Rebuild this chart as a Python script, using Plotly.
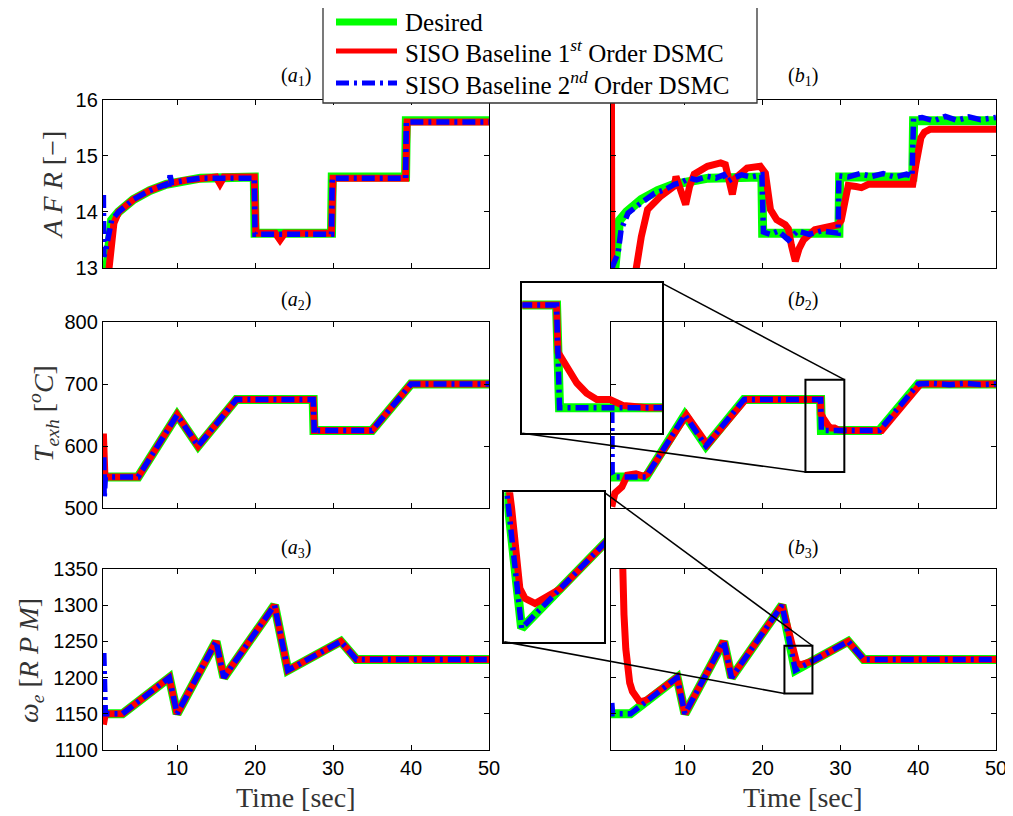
import plotly.graph_objects as go

# ---------------- data ----------------
# Air-fuel ratio
AFR_DES_T = [0.5, 1.0, 1.6, 2.5, 4.4, 6.5, 8.6, 11.0, 13.0, 19.9, 20.0, 29.8, 29.9, 39.3, 39.4, 50.0]
AFR_DES = [12.9, 13.0, 13.85, 14.0, 14.22, 14.38, 14.49, 14.56, 14.6, 14.62, 13.62, 13.62, 14.62, 14.62, 15.62, 15.62]

AFR_A_RED_T = [1.2, 1.9, 2.5, 4.4, 6.5, 8.6, 11.0, 13.0, 15.0, 15.5, 16.0, 19.9, 20.1, 22.6, 23.2, 23.8, 29.8, 30.0, 39.3, 39.5, 50.0]
AFR_A_RED = [12.9, 13.8, 14.0, 14.22, 14.38, 14.49, 14.56, 14.6, 14.62, 14.5, 14.62, 14.62, 13.62, 13.62, 13.5, 13.62, 13.62, 14.6, 14.6, 15.6, 15.6]

AFR_A_BLUE_T = [0.55, 0.6, 0.9, 1.6, 2.5, 4.4, 6.5, 8.6, 8.9, 9.1, 9.3, 11.0, 13.0, 19.9, 20.0, 29.8, 29.9, 39.3, 39.4, 50.0]
AFR_A_BLUE = [14.3, 13.2, 13.35, 13.85, 14.0, 14.22, 14.38, 14.49, 14.4, 14.65, 14.52, 14.56, 14.6, 14.6, 13.6, 13.6, 14.6, 14.6, 15.6, 15.6]

AFR_B_RED_T = [0.55, 0.62, 3.5, 3.75, 4.4, 5.2, 6.9, 8.65, 8.85, 9.3, 10.1, 10.6, 11.2, 12.9, 14.6, 15.2, 15.7, 16.1, 16.5,
               18.0, 19.7, 20.35, 21.0, 21.8, 22.9, 23.3, 23.7, 24.2, 24.7, 25.25, 26.7, 28.4, 29.7, 30.1, 30.5, 31.0,
               32.0, 32.7, 33.6, 39.3, 39.7, 40.35, 40.8, 41.5, 50.0]
AFR_B_RED = [17.0, 12.0, 12.6, 13.0, 13.56, 14.04, 14.28, 14.46, 14.63, 14.45, 14.13, 14.45, 14.67, 14.81, 14.87, 14.84, 14.6, 14.31, 14.6,
             14.78, 14.81, 14.69, 14.04, 13.86, 13.77, 13.7, 13.4, 13.12, 13.35, 13.5, 13.68, 13.74, 13.77, 13.85, 14.2, 14.47,
             14.45, 14.43, 14.49, 14.49, 14.84, 15.32, 15.42, 15.47, 15.47]

AFR_B_BLUE_T = [0.6, 1.4, 1.8, 2.7, 4.4, 6.1, 7.5, 8.65, 9.5, 10.6, 11.5, 12.9, 14.0, 15.0, 15.5, 16.2, 17.3, 18.5, 19.9,
                20.1, 21.0, 22.0, 23.3, 24.5, 26.0, 27.5, 29.7, 29.8, 31.0, 32.5, 34.0, 35.5, 37.0, 38.5, 39.2, 39.4,
                40.5, 42.0, 43.5, 45.0, 46.5, 48.0, 50.0]
AFR_B_BLUE = [13.0, 13.26, 13.68, 13.98, 14.16, 14.33, 14.4, 14.49, 14.52, 14.6, 14.57, 14.63, 14.6, 14.66, 14.54, 14.6, 14.66, 14.62, 14.66,
              13.64, 13.6, 13.66, 13.5, 13.66, 13.6, 13.66, 13.62, 14.64, 14.62, 14.68, 14.63, 14.68, 14.62, 14.67, 14.63, 15.66,
              15.68, 15.62, 15.7, 15.63, 15.69, 15.64, 15.68]

# Exhaust temperature
TEXH_DES_T = [0.5, 5.0, 10.0, 12.7, 17.6, 27.45, 27.55, 35.0, 40.0, 50.0]
TEXH_DES = [550, 550, 650, 600, 675, 675, 625, 625, 700, 700]

TEXH_A_RED_T = [0.55, 0.75, 5.0, 10.0, 12.7, 17.6, 27.45, 27.6, 35.0, 40.0, 50.0]
TEXH_A_RED = [620, 550, 550, 650, 600, 675, 675, 625, 625, 700, 700]

TEXH_A_BLUE_T = [0.6, 0.65, 0.8, 5.0, 10.0, 12.7, 17.6, 27.45, 27.6, 28.0, 35.0, 40.0, 50.0]
TEXH_A_BLUE = [582, 515, 550, 550, 650, 600, 675, 675, 620, 625, 625, 700, 700]

TEXH_B_RED_T = [0.6, 1.0, 1.9, 2.6, 3.7, 4.7, 5.3, 10.2, 12.9, 17.8, 27.45, 27.5, 27.79, 28.13, 28.46, 28.8, 29.24, 29.69,
                30.5, 35.3, 40.3, 50.0]
TEXH_B_RED = [502, 524, 534, 553, 555, 551, 556, 650, 602, 675, 675, 652, 645, 637, 632, 629, 629, 626,
              625, 625, 700, 700]

TEXH_B_BLUE_T = [0.6, 0.65, 0.9, 5.0, 10.0, 12.7, 17.6, 27.45, 27.55, 35.0, 40.0, 42.0, 44.0, 46.0, 48.0, 50.0]
TEXH_B_BLUE = [658, 556, 550, 550, 650, 600, 675, 675, 625, 625, 700, 701, 699, 701, 699, 700]

# Engine speed
W_DES_T = [0.5, 3.0, 9.0, 10.0, 15.0, 16.0, 22.5, 24.2, 31.0, 33.0, 50.0]
W_DES = [1150, 1150, 1200, 1150, 1250, 1200, 1300, 1210, 1250, 1225, 1225]

W_A_RED_T = [0.55, 0.8, 3.0, 9.0, 10.0, 15.0, 16.0, 22.5, 24.2, 31.0, 33.0, 50.0]
W_A_RED = [1135, 1150, 1150, 1200, 1150, 1250, 1200, 1300, 1210, 1250, 1225, 1225]

W_A_BLUE_T = [0.6, 0.62, 0.8, 3.0, 9.0, 10.0, 15.0, 16.0, 22.5, 24.2, 31.0, 33.0, 50.0]
W_A_BLUE = [1234, 1167, 1150, 1150, 1200, 1150, 1250, 1200, 1300, 1210, 1250, 1225, 1225]

W_B_RED_T = [1.85, 1.95, 2.17, 2.4, 2.6, 2.9, 3.25, 3.7, 4.1, 4.6, 5.2, 9.0, 10.0, 15.0, 16.0, 22.5, 23.64, 24.1, 24.39,
             24.95, 25.69, 26.35, 31.0, 33.0, 50.0]
W_B_RED = [1420, 1350, 1287, 1240, 1214, 1193, 1181, 1172, 1168, 1167, 1170, 1200, 1150, 1250, 1200, 1300, 1248.6, 1222.8, 1219.6,
           1218, 1220.2, 1222.6, 1250, 1225, 1225]

W_B_BLUE_T = [0.6, 0.7, 3.0, 9.0, 10.0, 15.0, 16.0, 22.5, 24.2, 31.0, 33.0, 50.0]
W_B_BLUE = [1165, 1150, 1150, 1200, 1150, 1250, 1200, 1300, 1210, 1250, 1225, 1225]

# axis ranges / ticks
T_RANGE = [0.5, 50]
T_TICKS = [10, 20, 30, 40, 50]
AFR_RANGE = [13, 16]
AFR_TICKS = [13, 14, 15, 16]
TEXH_RANGE = [500, 800]
TEXH_TICKS = [500, 600, 700, 800]
W_RANGE = [1100, 1350]
W_TICKS = [1100, 1150, 1200, 1250, 1300, 1350]

# zoom windows
ZOOM1_BOX_T = [25.5, 30.5]
ZOOM1_BOX_Y = [558, 707]
ZOOM1_VIEW_T = [26.3, 31.0]
ZOOM1_VIEW_Y = [612.5, 685.6]
ZOOM2_BOX_T = [22.8, 26.4]
ZOOM2_BOX_Y = [1178, 1244]
ZOOM2_VIEW_T = [23.23, 28.83]
ZOOM2_VIEW_Y = [1205.7, 1253.7]

NAMES = ["Desired", "SISO Baseline 1<sup><i>st</i></sup> Order DSMC", "SISO Baseline 2<sup><i>nd</i></sup> Order DSMC"]

# ---------------- layout geometry ----------------
# The page body adds an 8px margin, so the figure is 8px smaller and positions are shifted.
OFF = 8
W, H = 1013 - OFF, 816 - OFF

def PX(x):
    return (x - OFF) / W
def PY(y):
    return 1 - (y - OFF) / H
def px_x(a, b):
    return [PX(a), PX(b)]
def px_y(top, bottom):
    return [PY(bottom), PY(top)]

XA = px_x(103, 489)
XB = px_x(611, 996)
Y1 = px_y(99.5, 268)
Y2 = px_y(322, 508)
Y3 = px_y(569, 750)
XI1 = px_x(522.3, 662.3)
YI1 = px_y(283.3, 433.3)
XI2 = px_x(504.3, 604.3)
YI2 = px_y(492.3, 641.7)

SERIF = "Liberation Serif"
SANS = "Liberation Sans"
GREEN, RED, BLUE = "#00ff00", "#ff0000", "#0000ff"
BLUE_DASH = "13px,5px,3px,5px"
STYLES = [dict(color=GREEN, width=9), dict(color=RED, width=7), dict(color=BLUE, width=5.5, dash=BLUE_DASH)]

fig = go.Figure()

def add_set(idx, des, red, blue):
    xa = "x" if idx == 1 else f"x{idx}"
    ya = "y" if idx == 1 else f"y{idx}"
    for k, (xs, ys) in enumerate((des, red, blue)):
        fig.add_trace(go.Scatter(x=xs, y=ys, mode="lines", xaxis=xa, yaxis=ya,
                                 line=STYLES[k], name=NAMES[k], showlegend=False))

add_set(1, (AFR_DES_T, AFR_DES), (AFR_A_RED_T, AFR_A_RED), (AFR_A_BLUE_T, AFR_A_BLUE))
add_set(2, (AFR_DES_T, AFR_DES), (AFR_B_RED_T, AFR_B_RED), (AFR_B_BLUE_T, AFR_B_BLUE))
add_set(3, (TEXH_DES_T, TEXH_DES), (TEXH_A_RED_T, TEXH_A_RED), (TEXH_A_BLUE_T, TEXH_A_BLUE))
add_set(4, (TEXH_DES_T, TEXH_DES), (TEXH_B_RED_T, TEXH_B_RED), (TEXH_B_BLUE_T, TEXH_B_BLUE))
add_set(5, (W_DES_T, W_DES), (W_A_RED_T, W_A_RED), (W_A_BLUE_T, W_A_BLUE))
add_set(6, (W_DES_T, W_DES), (W_B_RED_T, W_B_RED), (W_B_BLUE_T, W_B_BLUE))
add_set(7, (TEXH_DES_T, TEXH_DES), (TEXH_B_RED_T, TEXH_B_RED), (TEXH_B_BLUE_T, TEXH_B_BLUE))
add_set(8, (W_DES_T, W_DES), (W_B_RED_T, W_B_RED), (W_B_BLUE_T, W_B_BLUE))

def axis(domain, anchor, rng, ticks=None, labels=False, inset=False):
    d = dict(domain=domain, anchor=anchor, range=rng, showgrid=False, zeroline=False,
             showline=True, linecolor="black", linewidth=2 if inset else 1.3,
             mirror=True if inset else "ticks", fixedrange=True, automargin=False)
    if inset:
        d.update(ticks="", showticklabels=False)
    else:
        d.update(ticks="inside", ticklen=5, tickwidth=1, tickcolor="black",
                 tickvals=ticks, showticklabels=labels,
                 tickfont=dict(family=SANS, size=20, color="black"))
    return d

fig.update_layout(
    width=W, height=H, margin=dict(l=0, r=0, t=0, b=0, autoexpand=False),
    paper_bgcolor="white", plot_bgcolor="rgba(0,0,0,0)",
    showlegend=False,
    xaxis=axis(XA, "y", T_RANGE, T_TICKS),
    yaxis=axis(Y1, "x", AFR_RANGE, AFR_TICKS, labels=True),
    xaxis2=axis(XB, "y2", T_RANGE, T_TICKS),
    yaxis2=axis(Y1, "x2", AFR_RANGE, AFR_TICKS),
    xaxis3=axis(XA, "y3", T_RANGE, T_TICKS),
    yaxis3=axis(Y2, "x3", TEXH_RANGE, TEXH_TICKS, labels=True),
    xaxis4=axis(XB, "y4", T_RANGE, T_TICKS),
    yaxis4=axis(Y2, "x4", TEXH_RANGE, TEXH_TICKS),
    xaxis5=axis(XA, "y5", T_RANGE, T_TICKS, labels=True),
    yaxis5=axis(Y3, "x5", W_RANGE, W_TICKS, labels=True),
    xaxis6=axis(XB, "y6", T_RANGE, T_TICKS, labels=True),
    yaxis6=axis(Y3, "x6", W_RANGE, W_TICKS),
    xaxis7=axis(XI1, "y7", ZOOM1_VIEW_T, inset=True),
    yaxis7=axis(YI1, "x7", ZOOM1_VIEW_Y, inset=True),
    xaxis8=axis(XI2, "y8", ZOOM2_VIEW_T, inset=True),
    yaxis8=axis(YI2, "x8", ZOOM2_VIEW_Y, inset=True),
)

# ---------- annotations ----------
ann = []
def title(text, xdom, ypx):
    ann.append(dict(text=text, x=(xdom[0] + xdom[1]) / 2, y=PY(ypx), xref="paper", yref="paper",
                    showarrow=False, xanchor="center", yanchor="middle",
                    font=dict(family=SERIF, size=20, color="black")))

title("(<i>a</i><sub>1</sub>)", XA, 77)
title("(<i>b</i><sub>1</sub>)", XB, 77)
title("(<i>a</i><sub>2</sub>)", XA, 300)
title("(<i>b</i><sub>2</sub>)", XB, 300)
title("(<i>a</i><sub>3</sub>)", XA, 548)
title("(<i>b</i><sub>3</sub>)", XB, 548)

def ylab(text, xc, yc):
    ann.append(dict(text=text, x=PX(xc), y=PY(yc), xref="paper", yref="paper", showarrow=False,
                    textangle=-90, xanchor="center", yanchor="middle",
                    font=dict(family=SERIF, size=28, color="#333333")))

ylab("<i>A F R</i> [−]", 53, 185)
ylab("<i>T</i><sub><i>exh</i></sub> [<sup><i>o</i></sup><i>C</i>]", 43, 414)
ylab("<i>ω</i><sub><i>e</i></sub> [<i>R P M</i>]", 30, 661)

for xd in (XA, XB):
    ann.append(dict(text="Time [sec]", x=(xd[0] + xd[1]) / 2, y=PY(797), xref="paper", yref="paper",
                    showarrow=False, xanchor="center", yanchor="middle",
                    font=dict(family=SERIF, size=28, color="#333333")))

# ---------- legend box (drawn on top of the upper panels) ----------
shapes = []
LEG_BOX = (323, 4, 757, 103)
LEG_ROWS = [22, 51, 83]
shapes.append(dict(type="rect", xref="paper", yref="paper", x0=PX(LEG_BOX[0]), x1=PX(LEG_BOX[2]),
                   y0=PY(LEG_BOX[3]), y1=PY(LEG_BOX[1]), fillcolor="white",
                   line=dict(color="#333333", width=1.3), layer="above"))
LEG_W = [7, 5, 5]
for k, yr in enumerate(LEG_ROWS):
    st = STYLES[k]
    shapes.append(dict(type="line", xref="paper", yref="paper", x0=PX(336), x1=PX(397), y0=PY(yr), y1=PY(yr),
                       line=dict(color=st["color"], width=LEG_W[k], dash=st.get("dash", "solid")),
                       layer="above"))
    ann.append(dict(text=NAMES[k], x=PX(403), y=PY(yr), xref="paper", yref="paper", showarrow=False,
                    xanchor="left", yanchor="middle", font=dict(family=SERIF, size=25, color="black")))

fig.update_layout(annotations=ann)

# ---------- zoom boxes and connectors ----------
def to_paper(xv, yv, xdom, ydom, xr, yr):
    return (xdom[0] + (xv - xr[0]) / (xr[1] - xr[0]) * (xdom[1] - xdom[0]),
            ydom[0] + (yv - yr[0]) / (yr[1] - yr[0]) * (ydom[1] - ydom[0]))

shapes.append(dict(type="rect", xref="x4", yref="y4", x0=ZOOM1_BOX_T[0], x1=ZOOM1_BOX_T[1],
                   y0=ZOOM1_BOX_Y[0], y1=ZOOM1_BOX_Y[1], line=dict(color="black", width=2)))
shapes.append(dict(type="rect", xref="x6", yref="y6", x0=ZOOM2_BOX_T[0], x1=ZOOM2_BOX_T[1],
                   y0=ZOOM2_BOX_Y[0], y1=ZOOM2_BOX_Y[1], line=dict(color="black", width=2)))

p_tr = to_paper(ZOOM1_BOX_T[1], ZOOM1_BOX_Y[1], XB, Y2, T_RANGE, TEXH_RANGE)
p_bl = to_paper(ZOOM1_BOX_T[0], ZOOM1_BOX_Y[0], XB, Y2, T_RANGE, TEXH_RANGE)
shapes.append(dict(type="line", xref="paper", yref="paper", x0=XI1[1], y0=YI1[1], x1=p_tr[0], y1=p_tr[1],
                   line=dict(color="black", width=1.5)))
shapes.append(dict(type="line", xref="paper", yref="paper", x0=XI1[0], y0=YI1[0], x1=p_bl[0], y1=p_bl[1],
                   line=dict(color="black", width=1.5)))
q_tr = to_paper(ZOOM2_BOX_T[1], ZOOM2_BOX_Y[1], XB, Y3, T_RANGE, W_RANGE)
q_bl = to_paper(ZOOM2_BOX_T[0], ZOOM2_BOX_Y[0], XB, Y3, T_RANGE, W_RANGE)
shapes.append(dict(type="line", xref="paper", yref="paper", x0=XI2[1], y0=YI2[1], x1=q_tr[0], y1=q_tr[1],
                   line=dict(color="black", width=1.5)))
shapes.append(dict(type="line", xref="paper", yref="paper", x0=XI2[0], y0=YI2[0], x1=q_bl[0], y1=q_bl[1],
                   line=dict(color="black", width=1.5)))
fig.update_layout(shapes=shapes)

fig.write_html("out.html")
